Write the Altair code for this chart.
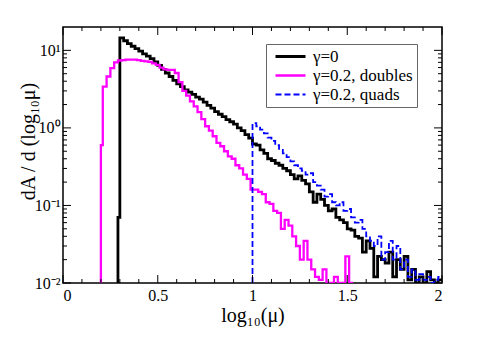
import altair as alt
import pandas as pd

SERIES = ["γ=0", "γ=0.2, doubles", "γ=0.2, quads"]
COLORS = ["#000000", "#ff00ff", "#0000ff"]
WIDTHS = [2.8, 1.8, 1.8]
DASHES = [[1, 0], [1, 0], [6, 3]]

BIN = 0.02
FLOOR = 0.001  # empty bins (drawn at the bottom of the frame)

# gamma = 0 (black)
black_first_edge = 0.29
black_first_val = 0.07
black_start = 0.30
black_vals = [
    14.5, 13.3, 12.2, 11.3, 10.5, 9.8, 9.0, 8.4, 7.8, 7.1,
    6.4, 5.7, 5.1, 4.6, 4.1, 3.7, 3.4, 3.1, 2.9, 2.7,
    2.5, 2.35, 2.15, 1.95, 1.8, 1.62, 1.5, 1.4, 1.28, 1.2,
    1.12, 1.0, 0.92, 0.82, 0.74, 0.62, 0.6, 0.52, 0.47, 0.40,
    0.38, 0.35, 0.33, 0.30, 0.28, 0.25, 0.22, 0.24, 0.21, 0.19,
    0.15, 0.11, 0.14, 0.12, 0.10, 0.085, 0.09, 0.07, 0.065, 0.06,
    0.05, 0.048, 0.04, 0.038, 0.025, 0.035, 0.028, 0.012, 0.022, 0.02,
    0.018, 0.025, 0.012, 0.02, 0.015, 0.022, 0.011, 0.015, 0.001, 0.012,
    0.001, 0.014, 0.011, 0.001, 0.011,
]

# gamma = 0.2, doubles (magenta)
mag_first_edge = 0.20
mag_first_val = 0.6
mag_start = 0.21
mag_vals = [
    3.4, 4.6, 5.9, 7.0, 7.4, 7.5, 7.6, 7.6, 7.6, 7.5,
    7.3, 7.2, 7.1, 6.8, 6.5, 6.0, 5.7, 5.6, 5.6, 5.1,
    3.9, 3.0, 2.6, 2.2, 1.9, 1.6, 1.3, 1.05, 0.92, 0.78,
    0.64, 0.58, 0.50, 0.43, 0.40, 0.33, 0.30, 0.25, 0.22, 0.16,
    0.16, 0.15, 0.14, 0.11, 0.105, 0.085, 0.08, 0.05, 0.065, 0.055,
    0.04, 0.03, 0.02, 0.035, 0.02, 0.015, 0.012, 0.011, 0.015, 0.001,
    0.001, 0.012, 0.001, 0.001, 0.022, 0.001,
]

# gamma = 0.2, quads (blue dashed)
quad_start = 1.00
quad_vals = [
    1.15, 1.05, 0.95, 0.85, 0.75, 0.68, 0.60, 0.52, 0.47, 0.42,
    0.37, 0.33, 0.30, 0.28, 0.25, 0.26, 0.20, 0.18, 0.16, 0.13,
    0.14, 0.11, 0.10, 0.11, 0.085, 0.09, 0.07, 0.06, 0.065, 0.05,
    0.04, 0.035, 0.03, 0.04, 0.02, 0.025, 0.035, 0.02, 0.03, 0.015,
    0.02, 0.012, 0.015, 0.011, 0.013, 0.011, 0.012, 0.001, 0.011, 0.012,
]

X_MAJOR = [0, 0.5, 1, 1.5, 2]
X_MINOR = [0.1, 0.2, 0.3, 0.4, 0.6, 0.7, 0.8, 0.9, 1.1, 1.2, 1.3, 1.4,
           1.6, 1.7, 1.8, 1.9]
Y_MAJOR = [0.01, 0.1, 1, 10]
Y_MINOR = [0.02, 0.03, 0.04, 0.05, 0.06, 0.07, 0.08, 0.09,
           0.2, 0.3, 0.4, 0.5, 0.6, 0.7, 0.8, 0.9,
           2, 3, 4, 5, 6, 7, 8, 9]


def steps(name, edges, vals, end):
    rows = [(edges[0], FLOOR)]
    rows += list(zip(edges, vals))
    rows.append((end, vals[-1]))
    return [{"series": name, "x": round(x, 4), "y": y, "i": k}
            for k, (x, y) in enumerate(rows)]


b_edges = [black_first_edge] + [black_start + k * BIN for k in range(len(black_vals))]
b_vals = [black_first_val] + black_vals
m_edges = [mag_first_edge] + [mag_start + k * BIN for k in range(len(mag_vals))]
m_vals = [mag_first_val] + mag_vals
q_edges = [quad_start + k * BIN for k in range(len(quad_vals))]

rows = []
rows += steps(SERIES[0], b_edges, b_vals, black_start + len(black_vals) * BIN)
rows += steps(SERIES[1], m_edges, m_vals, mag_start + len(mag_vals) * BIN)
rows += steps(SERIES[2], q_edges, quad_vals, quad_start + len(quad_vals) * BIN)
df = pd.DataFrame(rows)

W, H = 379, 256
FONT = "Liberation Serif"

xscale = alt.Scale(domain=[0, 2], nice=False, zero=False)
yscale = alt.Scale(type="log", domain=[0.01, 20], nice=False, clamp=True)

xaxis = alt.Axis(values=X_MAJOR, format=".1~f", ticks=False, domain=False,
                 grid=False, labelPadding=4, labelFontSize=16,
                 labelFont=FONT, labelColor="black", title="log₁₀(μ)",
                 titleFont=FONT, titleFontSize=20, titleFontWeight="normal",
                 titleColor="black", titlePadding=2)
yaxis = alt.Axis(values=Y_MAJOR, ticks=False, domain=False, grid=False,
                 labelExpr="datum.value >= 10 ? '10¹' : datum.value >= 1 ? '10⁰' : datum.value >= 0.1 ? '10⁻¹' : '10⁻²'",
                 labelPadding=3, labelFontSize=16, labelFont=FONT,
                 labelColor="black", title="dA / d (log₁₀μ)",
                 titleFont=FONT, titleFontSize=20, titleFontWeight="normal",
                 titleColor="black", titleX=-35, titleY=114,
                 titleAlign="center", titleBaseline="middle")

lines = alt.Chart(df).mark_line(interpolate="step-after", clip=True).encode(
    x=alt.X("x:Q", scale=xscale, axis=xaxis),
    y=alt.Y("y:Q", scale=yscale, axis=yaxis),
    color=alt.Color("series:N", scale=alt.Scale(domain=SERIES, range=COLORS),
                    legend=alt.Legend(title=None, orient="none", legendX=203, legendY=17,
                                      strokeColor="#666666", fillColor="white",
                                      padding=4, labelFont=FONT, labelFontSize=17,
                                      labelColor="black", symbolType="M-3,0H3",
                                      symbolSize=100, symbolOffset=12, labelOffset=14,
                                      rowPadding=1)),
    strokeDash=alt.StrokeDash("series:N", scale=alt.Scale(domain=SERIES, range=DASHES)),
    strokeWidth=alt.StrokeWidth("series:N", scale=alt.Scale(domain=SERIES, range=WIDTHS)),
    order="i:Q",
)


def xticks(vals, length, top):
    d = pd.DataFrame({"x": vals})
    if top:
        yy = dict(y=alt.value(0), y2=alt.value(length))
    else:
        yy = dict(y=alt.value(H), y2=alt.value(H - length))
    return alt.Chart(d).mark_rule(color="black", strokeWidth=1).encode(
        x=alt.X("x:Q", scale=xscale, axis=xaxis), **yy)


def yticks(vals, length, right):
    d = pd.DataFrame({"y": vals})
    if right:
        xx = dict(x=alt.value(W), x2=alt.value(W - length))
    else:
        xx = dict(x=alt.value(0), x2=alt.value(length))
    return alt.Chart(d).mark_rule(color="black", strokeWidth=1).encode(
        y=alt.Y("y:Q", scale=yscale, axis=yaxis), **xx)


ticks = [
    xticks(X_MAJOR, 8, False), xticks(X_MINOR, 4, False),
    xticks(X_MAJOR, 8, True), xticks(X_MINOR, 4, True),
    yticks(Y_MAJOR, 8, False), yticks(Y_MINOR, 4, False),
    yticks(Y_MAJOR, 8, True), yticks(Y_MINOR, 4, True),
]

chart = alt.layer(lines, *ticks).properties(
    width=W, height=H,
    background="white",
    autosize=alt.AutoSizeParams(type="none"),
    padding={"left": 55, "top": 19, "right": 35, "bottom": 55},
).configure(font=FONT).configure_axis(
    labelFont=FONT, titleFont=FONT
).configure_legend(labelFont=FONT).configure_view(stroke="black", strokeWidth=1.5)

chart.save("out.html", embed_options={"renderer": "svg", "actions": False})
